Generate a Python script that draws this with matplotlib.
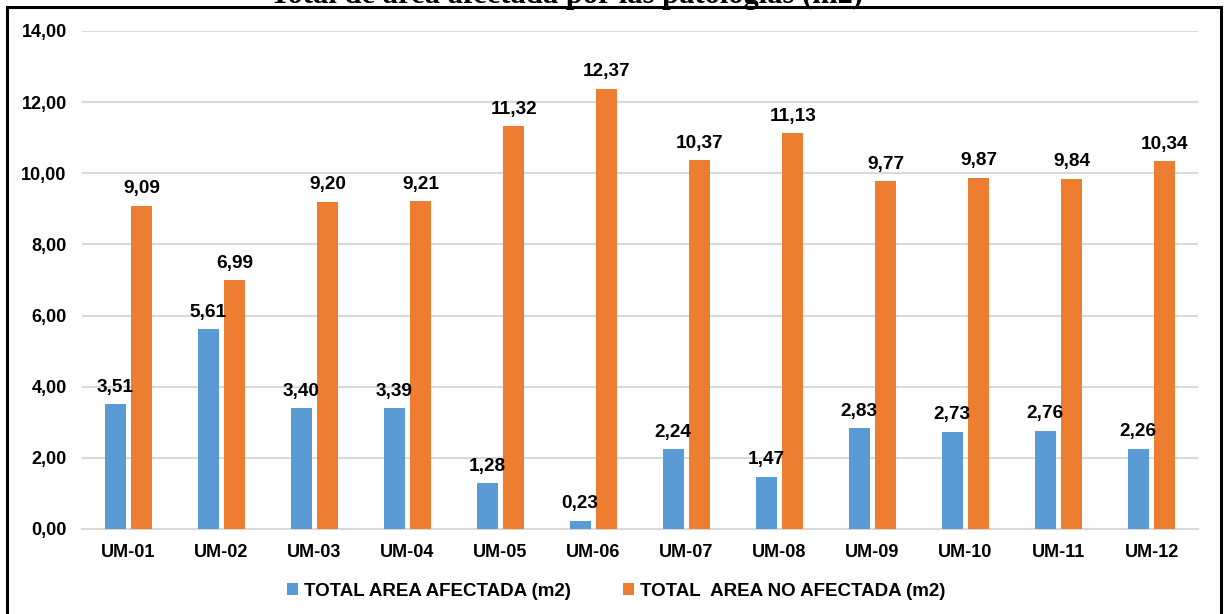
import matplotlib
matplotlib.use("Agg")
import matplotlib.pyplot as plt
from matplotlib.patches import Rectangle, Patch
import numpy as np

categories = ["UM-01", "UM-02", "UM-03", "UM-04", "UM-05", "UM-06",
              "UM-07", "UM-08", "UM-09", "UM-10", "UM-11", "UM-12"]
area_afectada = [3.51, 5.61, 3.40, 3.39, 1.28, 0.23, 2.24, 1.47, 2.83, 2.73, 2.76, 2.26]
area_no_afectada = [9.09, 6.99, 9.20, 9.21, 11.32, 12.37, 10.37, 11.13, 9.77, 9.87, 9.84, 10.34]
series_names = ["TOTAL AREA AFECTADA (m2)", "TOTAL  AREA NO AFECTADA (m2)"]
y_ticks = [0, 2, 4, 6, 8, 10, 12, 14]
title = "Total de área afectada por las patologías (m2)"

BLUE = "#5B9BD5"
ORANGE = "#ED7D31"
GRID = "#D9D9D9"
FONT = "Liberation Sans"

W, H = 1228, 614
fig = plt.figure(figsize=(W / 100, H / 100), dpi=100)
ax = fig.add_axes([82 / W, 1 - 529 / H, (1198 - 82) / W, (529 - 31) / H])

x = np.arange(len(categories))
bw = 0.226
off = 0.145
bars1 = ax.bar(x - off, area_afectada, bw, color=BLUE, zorder=3)
bars2 = ax.bar(x + off, area_no_afectada, bw, color=ORANGE, zorder=3)

def fmt(v):
    return f"{v:.2f}".replace(".", ",")

for bars, vals in ((bars1, area_afectada), (bars2, area_no_afectada)):
    for b, v in zip(bars, vals):
        ax.annotate(fmt(v), (b.get_x() + b.get_width() / 2, v),
                    xytext=(0, 9), textcoords="offset points",
                    ha="center", va="baseline", fontsize=13.7,
                    fontweight="bold", family=FONT, color="#000000", zorder=4)

ax.set_xlim(-0.5, len(categories) - 0.5)
ax.set_ylim(0, 14)
ax.set_yticks(y_ticks)
ax.set_yticklabels([fmt(t) for t in y_ticks], fontsize=13, fontweight="bold",
                   family=FONT)
ax.set_xticks(x)
ax.set_xticklabels(categories, fontsize=13, fontweight="bold", family=FONT)
ax.tick_params(axis="both", length=0)
ax.tick_params(axis="y", pad=11)
ax.tick_params(axis="x", pad=11)
ax.grid(axis="y", color=GRID, linewidth=1.5, zorder=0)
for s in ("top", "right", "left"):
    ax.spines[s].set_visible(False)
ax.spines["bottom"].set_color(GRID)
ax.spines["bottom"].set_linewidth(1.5)

handles = [Patch(facecolor=BLUE, edgecolor="none"),
           Patch(facecolor=ORANGE, edgecolor="none")]
fig.legend(handles, series_names, loc="center", bbox_to_anchor=(616 / W, 1 - 591 / H),
           ncol=2, frameon=False, handlelength=0.6, handleheight=0.6,
           handletextpad=0.32, columnspacing=2.75, borderpad=0, borderaxespad=0,
           prop={"family": FONT, "weight": "bold", "size": 13.5})

# outer frame
fig.patches.append(Rectangle((7 / W, -0.05), (1221 - 7) / W, 1 - 7 / H + 0.05,
                             transform=fig.transFigure, fill=False,
                             edgecolor="black", linewidth=2.2))

# heading that runs off the top edge
fig.text(566 / W, 1 - 2.5 / H, title, ha="center", va="baseline",
         fontsize=22, fontweight="bold", family="Liberation Serif")

fig.savefig("out.png", dpi=100)
